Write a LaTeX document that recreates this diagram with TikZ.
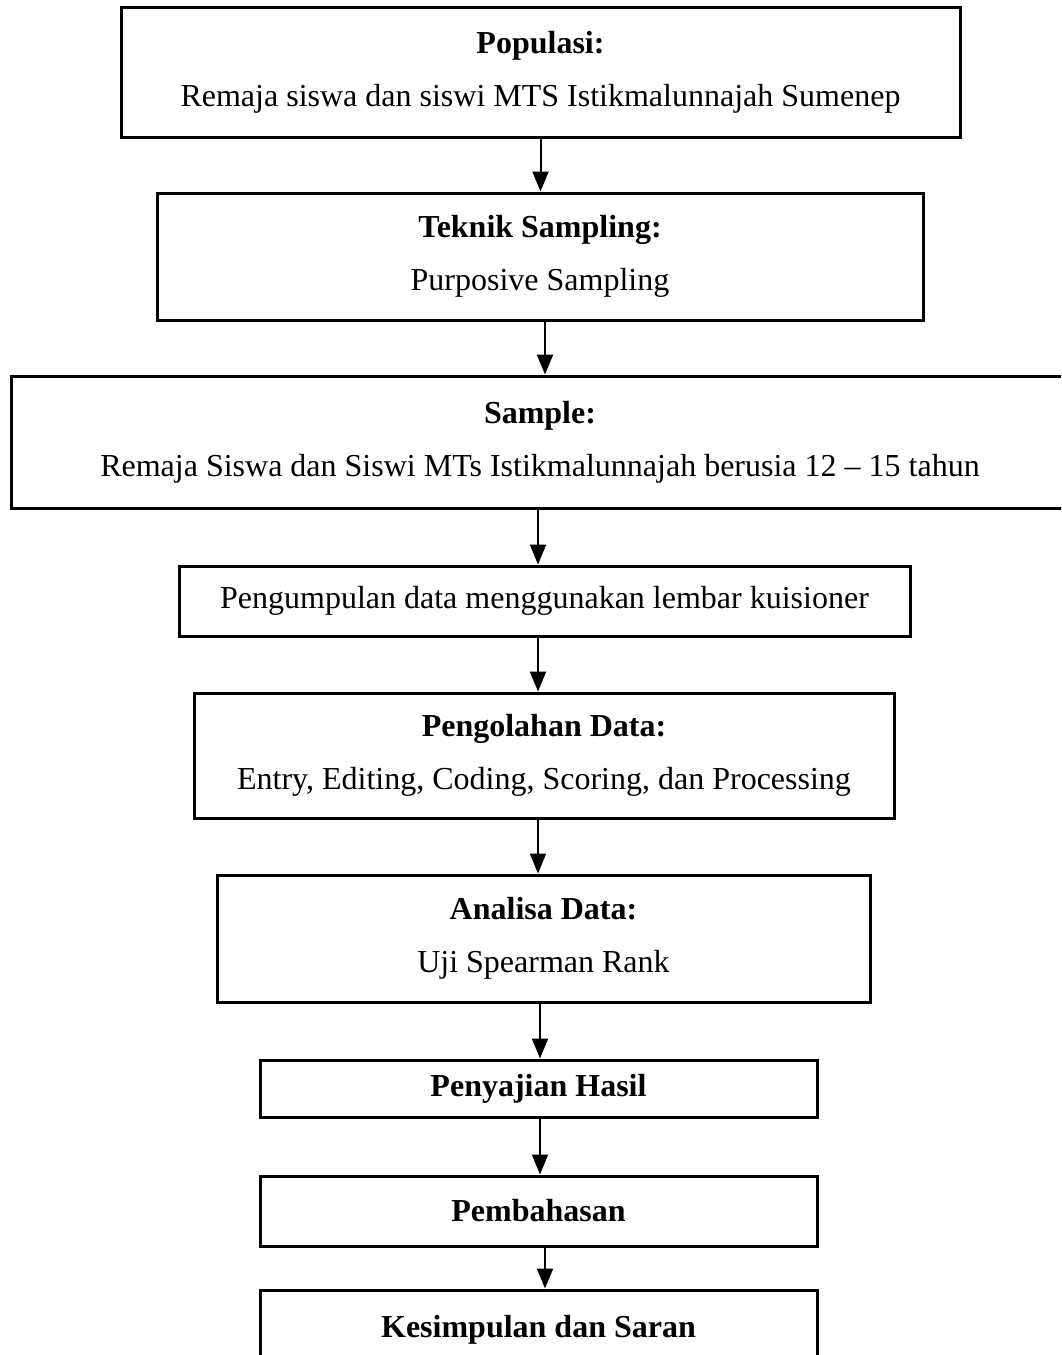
\documentclass[tikz,border=0pt]{standalone}
\usepackage{fontspec}
\setmainfont{Liberation Serif}
\usetikzlibrary{arrows.meta}
\begin{document}
\begin{tikzpicture}[x=0.5pt,y=-0.5pt,
  box/.style={draw, line width=1.5pt, rectangle, align=center, inner sep=0pt,
    font=\fontsize{16}{26.5}\selectfont},
  arr/.style={line width=1pt, -{Triangle[length=10pt,width=8pt]}}]
\path[use as bounding box] (0,0) rectangle (1061,1355);
\clip (0,0) rectangle (1061,1355);
\node[box, minimum width=419.5pt, minimum height=65pt] (b1) at (540.5,72)
  {\textbf{Populasi:}\\Remaja siswa dan siswi MTS Istikmalunnajah Sumenep};
\node[box, minimum width=383pt, minimum height=63.5pt] (b2) at (540,256.5)
  {\textbf{Teknik Sampling:}\\Purposive Sampling};
\node[box, minimum width=529pt, minimum height=66pt] (b3) at (540,442)
  {\textbf{Sample:}\\Remaja Siswa dan Siswi MTs Istikmalunnajah berusia 12 -- 15 tahun};
\node[box, minimum width=365.5pt, minimum height=35pt] (b4) at (544.5,601)
  {Pengumpulan data menggunakan lembar kuisioner};
\node[box, minimum width=350pt, minimum height=62.5pt] (b5) at (544,755.5)
  {\textbf{Pengolahan Data:}\\Entry, Editing, Coding, Scoring, dan Processing};
\node[box, minimum width=326.5pt, minimum height=63.5pt] (b6) at (543.5,938.5)
  {\textbf{Analisa Data:}\\Uji Spearman Rank};
\node[box, minimum width=278.5pt, minimum height=28.5pt] (b7) at (538.5,1088.5)
  {\textbf{Penyajian Hasil}};
\node[box, minimum width=278.5pt, minimum height=35pt] (b8) at (538.5,1211)
  {\textbf{Pembahasan}};
\node[box, minimum width=278.5pt, minimum height=62.5pt] (b9) at (538.5,1352.5)
  {\textbf{Kesimpulan dan Saran}\\\mbox{}};
\draw[arr] (b1.south) -- (b1.south |- b2.north);
\draw[arr] ([xshift=2.5pt]b2.south) -- ([xshift=2.5pt]b2.south |- b3.north);
\draw[arr] ([xshift=-1pt]b3.south) -- ([xshift=-1pt]b3.south |- b4.north);
\draw[arr] ([xshift=-3.25pt]b4.south) -- ([xshift=-3.25pt]b4.south |- b5.north);
\draw[arr] ([xshift=-3pt]b5.south) -- ([xshift=-3pt]b5.south |- b6.north);
\draw[arr] ([xshift=-1.75pt]b6.south) -- ([xshift=-1.75pt]b6.south |- b7.north);
\draw[arr] ([xshift=0.75pt]b7.south) -- ([xshift=0.75pt]b7.south |- b8.north);
\draw[arr] ([xshift=3.25pt]b8.south) -- ([xshift=3.25pt]b8.south |- b9.north);
\end{tikzpicture}
\end{document}
